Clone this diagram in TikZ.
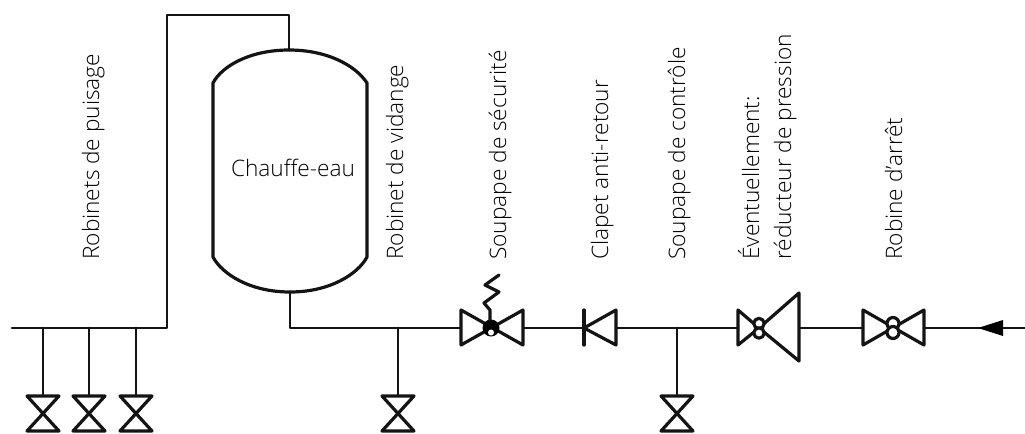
\documentclass[tikz,border=0pt]{standalone}
\usepackage{fontspec}
\setmainfont{Open Sans Light}[BoldFont={Open Sans}]
\tikzset{
  pipe/.style={line width=2.2pt,line cap=round,line join=round,black!92},
  sym/.style={line width=2.4pt,line join=round,line cap=round,black!92},
  lab/.style={rotate=90,anchor=base west,inner sep=0pt,font=\fontsize{17}{19}\selectfont,text=black},
  lab2/.style={anchor=center,inner sep=0pt,font=\fontsize{17}{19}\selectfont,text=black},
}
\begin{document}
\begin{tikzpicture}[x=0.75pt,y=-0.75pt]
\useasboundingbox (0,0) rectangle (1025,433);
% key points
\coordinate (inL) at (12,328);
\coordinate (c1) at (167,328);
\coordinate (c2) at (167,15);
\coordinate (c3) at (289,15);
\coordinate (top) at (289,50);
\coordinate (bot) at (290,292);
\coordinate (c4) at (290,328);
\coordinate (sL) at (461,328);
\coordinate (sR) at (523,328);
\coordinate (cB) at (584,328);
\coordinate (cR) at (616,328);
\coordinate (rL) at (738,328);
\coordinate (rR) at (799,328);
\coordinate (aL) at (863,328);
\coordinate (aR) at (924,328);
\coordinate (outR) at (1025,328);
\coordinate (t1) at (43,328);
\coordinate (t2) at (89,328);
\coordinate (t3) at (136,328);
\coordinate (t4) at (398,328);
\coordinate (t5) at (677,328);
\coordinate (v1) at (43,396);
\coordinate (v2) at (89,396);
\coordinate (v3) at (136,396);
\coordinate (v4) at (398,396);
\coordinate (v5) at (677,396);
% vessel
\draw[sym] (213,83) .. controls (222,66) and (250,50) .. (top) .. controls (328,50) and (356,66) .. (367,83)
  -- (367,257) .. controls (358,274) and (330,292) .. (bot) .. controls (250,292) and (222,274) .. (213,257) -- cycle;
% pipes
\draw[pipe] (inL) -- (c1) -- (c2) -- (c3) -- (top);
\draw[pipe] (bot) -- (c4) -- (sL);
\draw[pipe] (sR) -- (cB);
\draw[pipe] (cR) -- (rL);
\draw[pipe] (rR) -- (aL);
\draw[pipe] (aR) -- (outR);
\foreach \a/\b in {t1/v1,t2/v2,t3/v3,t4/v4,t5/v5} \draw[pipe] (\a) -- (\b);
% drain valves
\foreach \x in {43,89,136,398,677}
  \draw[sym] (\x-16,396) -- (\x+16,396) -- (\x-16,431) -- (\x+16,431) -- cycle;
% safety valve
\draw[sym] (461,310) -- (461,345) -- (523,310) -- (523,345) -- cycle;
\fill[black] (491,328) circle (8.5);
\fill[white] (491,332.5) circle (3);
\draw[sym] (490,320) -- (490,310) -- (484,303) -- (499,292) -- (485,285) -- (499,275);
% check valve
\draw[sym] (cB |- 0,310) -- (cB |- 0,345);
\draw[sym] (cB) -- (616,310) -- (616,345) -- cycle;
% reducer
\draw[sym] (759,328) -- (738,310) -- (738,345) -- cycle;
\draw[sym] (759,328) -- (799,293) -- (799,361) -- cycle;
\draw[sym,fill=white] (759,323.5) circle (5.2);
\draw[sym,fill=white] (759,333) circle (5.2);
% stop valve
\draw[sym] (863,310) -- (863,345) -- (924,310) -- (924,345) -- cycle;
\draw[sym,fill=white] (893,323.5) circle (6);
\draw[sym,fill=white] (893,332.5) circle (6);
% arrow
\fill[black] (978,328) -- (1003,320) -- (1003,336) -- cycle;
% labels
\node[lab2] (chauffe) at (293,168) {Chauffe-eau};
\node[lab] (n1) at (99,260) {Robinets de puisage};
\node[lab] (n2) at (403,260) {Robinet de vidange};
\node[lab] (n3) at (506,260) {Soupape de sécurité};
\node[lab] (n4) at (608,260) {Clapet anti-retour};
\node[lab] (n5) at (685,260) {Soupape de contrôle};
\node[lab] (n6) at (759,260) {Éventuellement:};
\node[lab] (n7) at (791,260) {réducteur de pression};
\node[lab] (n8) at (902,260) {Robine d’arrêt};
\end{tikzpicture}
\end{document}
